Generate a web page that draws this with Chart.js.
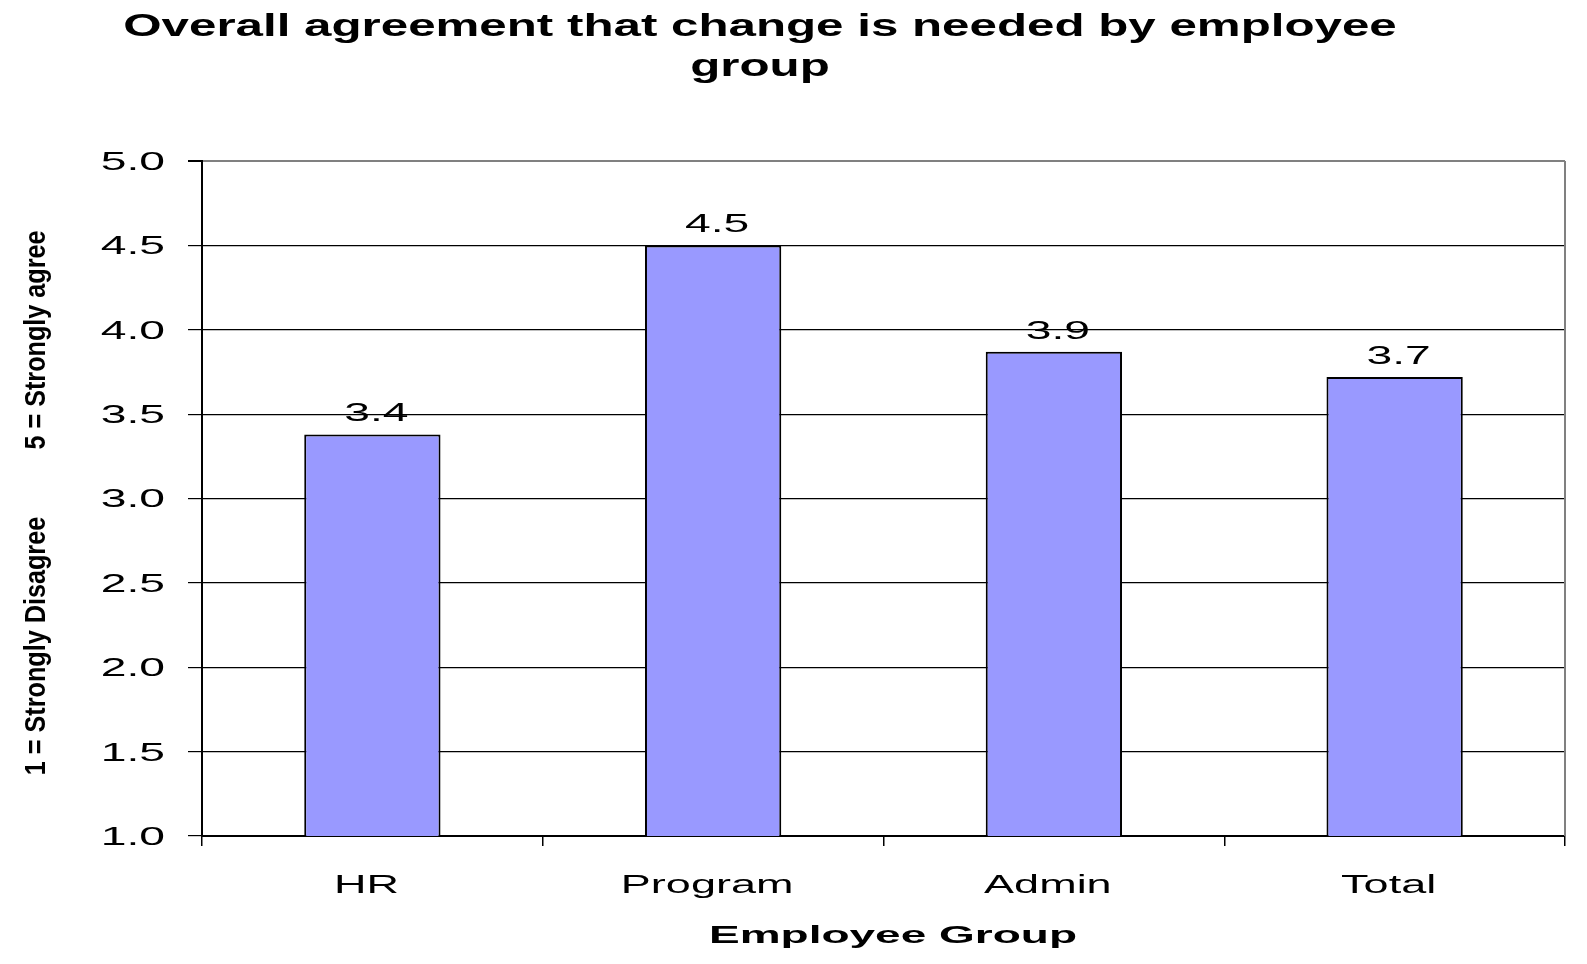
<!DOCTYPE html>
<html>
<head>
<meta charset="utf-8">
<script src="https://cdn.jsdelivr.net/npm/chart.js@4.4.0/dist/chart.umd.min.js"></script>
<style>
  body { margin: 0; background: #fff; }
  #wrap { width: 1587px; height: 964px; }
</style>
</head>
<body>
<div id="wrap"><canvas id="myChart"></canvas></div>
<script>
// chart data
const groups = ['HR', 'Program', 'Admin', 'Total'];
const scores = [3.38, 4.5, 3.87, 3.72];
const yTicks = ['1.0', '1.5', '2.0', '2.5', '3.0', '3.5', '4.0', '4.5', '5.0'];
const titleLines = ['Overall agreement that change is needed by employee', 'group'];
const xTitle = 'Employee Group';
const yTitleParts = ['1 = Strongly Disagree', '5 = Strongly agree'];

const FONT = "'Liberation Sans', Arial, sans-serif";

// the original picture is stretched sideways, so text is drawn with a horizontal scale
function stretchText(ctx, text, x, y, o) {
  ctx.save();
  ctx.font = o.font;
  ctx.fillStyle = '#000';
  ctx.textAlign = o.align || 'center';
  ctx.textBaseline = o.baseline || 'alphabetic';
  ctx.translate(x, y);
  if (o.rotate) ctx.rotate(o.rotate);
  ctx.scale(o.sx, 1);
  ctx.fillText(text, 0, 0);
  ctx.restore();
}

const textPlugin = {
  id: 'stretchedText',
  afterDraw(chart) {
    const ctx = chart.ctx;
    const area = chart.chartArea;
    const xs = chart.scales.x;
    const ys = chart.scales.y;

    // right border of the plot
    ctx.save();
    ctx.strokeStyle = '#808080';
    ctx.lineWidth = 2;
    ctx.beginPath();
    ctx.moveTo(area.right, area.top);
    ctx.lineTo(area.right, area.bottom);
    ctx.stroke();
    ctx.restore();

    // title
    stretchText(ctx, titleLines[0], 760, 36, { font: 'bold 32px ' + FONT, sx: 1.54 });
    stretchText(ctx, titleLines[1], 760, 76, { font: 'bold 32px ' + FONT, sx: 1.54 });

    // y tick labels
    yTicks.forEach(t => {
      stretchText(ctx, t, area.left - 37, ys.getPixelForValue(parseFloat(t)) + 2,
        { font: '25px ' + FONT, sx: 1.85, align: 'right', baseline: 'middle' });
    });

    // x labels
    groups.forEach((g, i) => {
      stretchText(ctx, g, xs.getPixelForValue(i) - 6, 893, { font: '25px ' + FONT, sx: 1.8 });
    });

    // value labels
    const meta = chart.getDatasetMeta(0);
    meta.data.forEach((bar, i) => {
      stretchText(ctx, scores[i].toFixed(1), bar.x + 4, bar.y - 13, { font: '25px ' + FONT, sx: 1.85 });
    });

    // axis titles
    stretchText(ctx, xTitle, 893, 943, { font: 'bold 23px ' + FONT, sx: 2.0 });
    stretchText(ctx, yTitleParts[0], 45, 646, { font: 'bold 30px ' + FONT, sx: 0.84, rotate: -Math.PI / 2 });
    stretchText(ctx, yTitleParts[1], 45, 340, { font: 'bold 30px ' + FONT, sx: 0.84, rotate: -Math.PI / 2 });
  }
};

const ctx = document.getElementById('myChart');
new Chart(ctx, {
  type: 'bar',
  data: {
    labels: groups,
    datasets: [{
      data: scores,
      backgroundColor: '#9999FF',
      borderColor: '#000',
      borderWidth: 2,
      borderSkipped: false,
      categoryPercentage: 1,
      barPercentage: 0.4
    }]
  },
  options: {
    responsive: true,
    maintainAspectRatio: false,
    animation: false,
    layout: {
      padding: { left: 188, right: 22, top: 161, bottom: 118 }
    },
    plugins: {
      legend: { display: false },
      title: { display: false },
      tooltip: { enabled: false }
    },
    scales: {
      x: {
        afterFit(scale) { scale.height = 10; },
        ticks: { display: false },
        grid: {
          offset: true,
          drawOnChartArea: false,
          drawTicks: true,
          tickLength: 10,
          color: '#000',
          lineWidth: 1.5
        },
        border: { color: '#000', width: 2 }
      },
      y: {
        min: 1,
        max: 5,
        afterFit(scale) { scale.width = 14; },
        ticks: { display: false, stepSize: 0.5 },
        grid: {
          color: c => (c.tick && c.tick.value === 5 ? '#808080' : '#000'),
          tickColor: '#000',
          lineWidth: c => (c.tick && c.tick.value === 5 ? 2 : 1.2),
          tickLength: 14
        },
        border: { color: '#000', width: 2 }
      }
    }
  },
  plugins: [textPlugin]
});
</script>
</body>
</html>
